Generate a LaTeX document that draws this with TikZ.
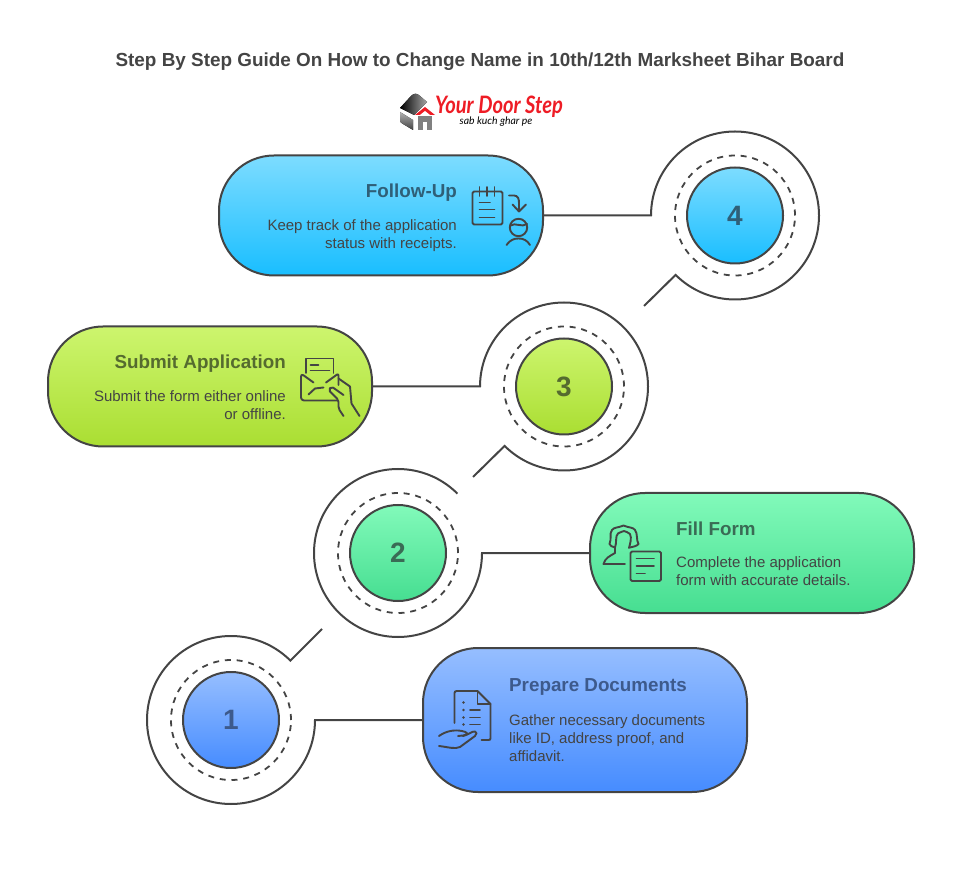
\documentclass[tikz,border=0pt]{standalone}
\usepackage{fontspec}
\setmainfont{Liberation Sans}
\newfontfamily\logofont{Lato}
\usepackage{tikz}
\usetikzlibrary{positioning}

\definecolor{inkgrey}{HTML}{444444}
\definecolor{bluetop}{HTML}{96BEFF}
\definecolor{bluebot}{HTML}{468CFF}
\definecolor{bluetxt}{HTML}{3D5A8C}
\definecolor{greentop}{HTML}{82FABA}
\definecolor{greenbot}{HTML}{46DE91}
\definecolor{greentxt}{HTML}{3A6B55}
\definecolor{limetop}{HTML}{CDF56E}
\definecolor{limebot}{HTML}{AADE32}
\definecolor{limetxt}{HTML}{556B2F}
\definecolor{cyantop}{HTML}{7DDCFF}
\definecolor{cyanbot}{HTML}{19BEFF}
\definecolor{cyantxt}{HTML}{2F5F78}
\definecolor{logored}{HTML}{EE1C25}

\tikzset{
	line/.style={draw=inkgrey, line width=2pt},
	card/.style={line, rounded corners=55pt, minimum width=324pt, inner sep=0pt},
	disc/.style={line, circle, minimum size=96pt, inner sep=0pt, font=\bfseries\fontsize{28}{28}\selectfont},
	head/.style={inner sep=0pt, font=\bfseries\fontsize{18.8}{18.8}\selectfont},
	body/.style={inner sep=0pt, text=inkgrey, font=\fontsize{15}{18}\selectfont},
	icon/.style={draw=inkgrey, line width=1.9pt, line cap=round, line join=round},
}

\begin{document}
\begin{tikzpicture}[x=1pt, y=1pt]
	\useasboundingbox (0,0) rectangle (960,876);

	% Title and logo text
	\node[inner sep=0pt, text=inkgrey, font=\bfseries\fontsize{18.9}{18.9}\selectfont] (Title) at (480,814.5) {Step By Step Guide On How to Change Name in 10th/12th Marksheet Bihar Board};
	\node[inner sep=0pt, text=logored, xscale=0.84, font=\logofont\bfseries\itshape\fontsize{24}{24}\selectfont] (LogoName) at (499,769) {Your Door Step};
	\node[inner sep=0pt, text=black, font=\logofont\itshape\fontsize{10.4}{10.4}\selectfont] (LogoTag) at (496,754) {sab kuch ghar pe};

	% Cards
	\node[card, minimum height=144pt, top color=bluetop, bottom color=bluebot] (Card1) at (585,156) {};
	\node[card, minimum height=120pt, top color=greentop, bottom color=greenbot] (Card2) at (752,323) {};
	\node[card, minimum height=120pt, top color=limetop, bottom color=limebot] (Card3) at (210,489.5) {};
	\node[card, minimum height=120pt, top color=cyantop, bottom color=cyanbot] (Card4) at (381,660.5) {};

	% Numbered discs
	\node[disc, top color=bluetop, bottom color=bluebot, text=bluetxt] (C1) at (231,156) {1};
	\node[disc, top color=greentop, bottom color=greenbot, text=greentxt] (C2) at (398,323) {2};
	\node[disc, top color=limetop, bottom color=limebot, text=limetxt] (C3) at (564,489.5) {3};
	\node[disc, top color=cyantop, bottom color=cyanbot, text=cyantxt] (C4) at (735,660.5) {4};

	\foreach \n in {1,2,3,4}
		\draw[draw=inkgrey, line width=1.8pt, dash pattern=on 6pt off 5.8pt] (C\n) circle (60pt);

	% Rings start where the card line arrives
	\coordinate (Open1) at (315,156);
	\coordinate (Open2) at (482,323);
	\coordinate (Open3) at (480,489.5);
	\coordinate (Open4) at (651,660.5);
	\coordinate (Tail1) at (322,247);
	\coordinate (Tail3) at (473,399);
	\coordinate (Tail4) at (644,570);

	\draw[line] (Card1.west) -- (Open1) arc[start angle=0, end angle=-315, radius=84pt] -- (Tail1);
	\draw[line] (Card2.west) -- (Open2) arc[start angle=0, end angle=-315, radius=84pt];
	\draw[line] (Card3.east) -- (Open3) arc[start angle=180, end angle=-135, radius=84pt] -- (Tail3);
	\draw[line] (Card4.east) -- (Open4) arc[start angle=180, end angle=-135, radius=84pt] -- (Tail4);

	% Card texts
	\node[head, text=bluetxt, anchor=base west] (Head1) at (509,185) {Prepare Documents};
	\node[body, align=left, below=23pt of Head1.base west, anchor=north west] (Body1) {Gather necessary documents\\like ID, address proof, and\\affidavit.};
	\node[head, text=greentxt, anchor=base west] (Head2) at (676,341) {Fill Form};
	\node[body, align=left, below=21pt of Head2.base west, anchor=north west] (Body2) {Complete the application\\form with accurate details.};
	\node[head, text=limetxt, anchor=base east] (Head3) at (286,507) {Submit Application};
	\node[body, align=right, below=21pt of Head3.base east, anchor=north east] (Body3) {Submit the form either online\\or offline.};
	\node[head, text=cyantxt, anchor=base east] (Head4) at (457,678) {Follow-Up};
	\node[body, align=right, below=21pt of Head4.base east, anchor=north east] (Body4) {Keep track of the application\\status with receipts.};

	% Everything below is drawn in image pixels
	\begin{scope}[shift={(0,876)}, y=-1pt]
		% Logo
		\fill[left color=black, right color=gray!70] (400,108) -- (411,96) .. controls (414,93) and (417,93) .. (420,96) -- (427,102) -- (414,115) -- cycle;
		\fill[top color=gray!60, bottom color=black!75] (400,112) -- (413,120) -- (413,130) -- (403,124) .. controls (401,123) and (400,122) .. (400,120) -- cycle;
		\fill[gray] (418,116) rectangle (432,130);
		\fill[white] (423,122) rectangle (427,130);
		\fill[logored] (415,115) -- (425,107) -- (435,115) -- cycle;
		\fill[white] (420,115) -- (425,111) -- (430,115) -- cycle;

		% Follow-Up icon
		\draw[icon, rounded corners=1.5pt] (472.5,191.5) rectangle (502.5,224.5);
		\draw[icon] (479.5,187) -- (479.5,196) (487,187) -- (487,196) (494.5,187) -- (494.5,196);
		\draw[icon] (479.5,202.5) -- (490,202.5) (479.5,209.5) -- (494.5,209.5) (479.5,217.5) -- (494.5,217.5);
		\draw[icon] (509,195.5) -- (514,195.5) .. controls (518,195.5) and (519,199) .. (519,203) -- (519,211);
		\draw[icon] (512.5,204.5) -- (519,211.5) -- (526,204.5);
		\draw[icon] (518.5,227.5) circle (8.7pt);
		\draw[icon] (510.5,225.5) .. controls (515,222) and (522,228) .. (527,224);
		\draw[icon] (506.5,245) .. controls (510,240) and (514,238.5) .. (518.5,238.5) .. controls (523,238.5) and (527,240) .. (530,245);

		% Submit icon
		\draw[icon] (306,373) -- (306,358.5) -- (333.5,358.5) -- (333.5,373);
		\draw[icon] (310.5,365) -- (318.5,365) (310.5,370.5) -- (329.5,370.5);
		\draw[icon, rounded corners=2pt] (338.5,385) -- (338.5,373.5) -- (326,382.5);
		\draw[icon, rounded corners=3pt] (313.5,382.5) -- (301,373.5) -- (301,400.5) -- (337,400.5);
		\draw[icon] (308.5,394.5) -- (315,388.5) -- (323.5,387.5);
		\draw[icon] (338.5,378.5) -- (350,386.5) -- (351.5,403.5) -- (359.5,416);
		\draw[icon, rounded corners=2pt] (343.5,395) -- (331.5,386.5) -- (328.5,390) -- (338.5,400) -- (338.5,408.5) -- (343.5,416);

		% Fill Form icon
		\draw[icon, rounded corners=1.5pt] (630.5,551.5) rectangle (661,581);
		\draw[icon] (636.5,558.5) -- (654,558.5) (636.5,566) -- (654,566) (636.5,573.5) -- (645,573.5);
		\draw[icon] (625,564) -- (603.5,564) .. controls (605,558) and (610,556) .. (615,553) -- (615,547.5);
		\draw[icon] (615,547.5) .. controls (612,546.5) and (610,546) .. (609.5,544) .. controls (612,538) and (609,534) .. (612,530) .. controls (614,527) and (618,528) .. (623.5,525.5) .. controls (629,528) and (633,527) .. (635,530) .. controls (638,534) and (636,540) .. (638.5,544) .. controls (637,546) and (633,547) .. (630,547.5);
		\draw[icon] (615,547.5) .. controls (617,543) and (615,536) .. (618,533.5) .. controls (620,532) and (622,532) .. (624,531) .. controls (626,532) and (628,532) .. (630,534) .. controls (632,538) and (630,544) .. (629,548);

		% Prepare icon
		\draw[icon] (454.5,723) -- (454.5,693) .. controls (454.5,691.5) and (455.5,691) .. (457,691) -- (477.5,691) -- (490.5,704) -- (490.5,738) .. controls (490.5,739.5) and (490,740) .. (488.5,740) -- (481.5,740);
		\draw[icon] (477.5,691) -- (477.5,704) -- (490.5,704);
		\foreach \dy in {702.5,710,717.5,724.5}
			\fill[inkgrey] (463.5,\dy) circle (1.3pt);
		\draw[icon] (470,710) -- (480,710) (470,717.5) -- (480,717.5) (470,724.5) -- (480,724.5);
		\draw[icon] (439,736) .. controls (446,731) and (454,729.5) .. (462,731) .. controls (467,732) and (470,734) .. (463,735.5) -- (458,736);
		\draw[icon] (463,736) .. controls (468,735) and (472,731) .. (475,731.5) .. controls (477,732) and (477,734) .. (475,736) -- (460,747) .. controls (455,749.5) and (448,747) .. (439,746);
	\end{scope}
\end{tikzpicture}
\end{document}
